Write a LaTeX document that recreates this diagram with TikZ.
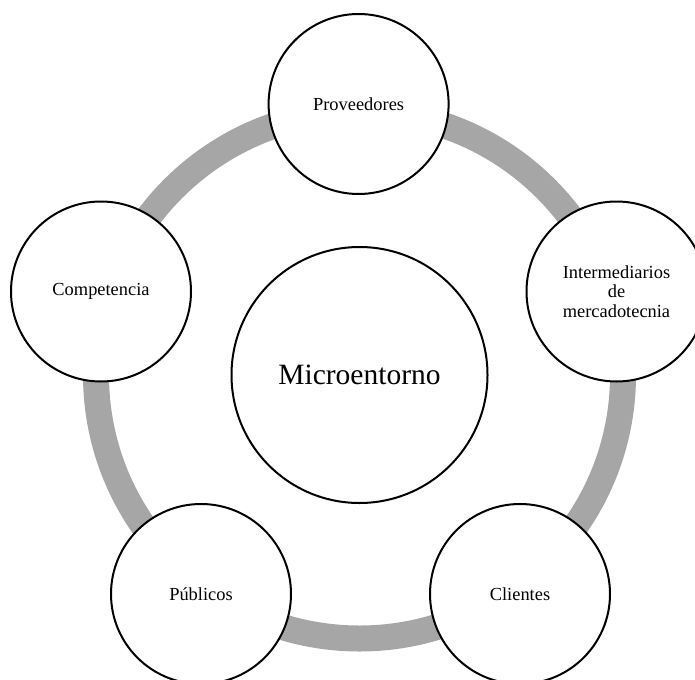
\documentclass[tikz,border=0pt]{standalone}
\usepackage{fontspec}
\setmainfont{Liberation Serif}
\begin{document}
\begin{tikzpicture}[x=1pt,y=-1pt,
  ringline/.style={line width=26pt, draw=ringgray},
  member/.style={circle, draw=black, line width=2pt, fill=white,
    minimum size=180pt, inner sep=0pt, align=center,
    font=\fontsize{18.4}{19.5}\selectfont},
  core/.style={circle, draw=black, line width=2pt, fill=white,
    minimum size=256pt, inner sep=0pt,
    font=\fontsize{29.5}{32}\selectfont}]
\definecolor{ringgray}{HTML}{A6A6A6}
\useasboundingbox (0,0) rectangle (695,679);
\clip (0,0) rectangle (695,679);
% connecting ring behind the five members
\draw[ringline] (359.5,375) circle[radius=263.5pt];
% centre
\node[core] (micro) at (359.5,375) {Microentorno};
% the five members around it
\node[member] (prov)  at (358.6,104)  {Proveedores};
\node[member] (inter) at (616.5,291.5) {Intermediarios\\de\\mercadotecnia};
\node[member] (cli)   at (520,594)    {Clientes};
\node[member] (pub)   at (201,594)    {Públicos};
\node[member] (comp)  at (101,291.5)  {Competencia};
\end{tikzpicture}
\end{document}
